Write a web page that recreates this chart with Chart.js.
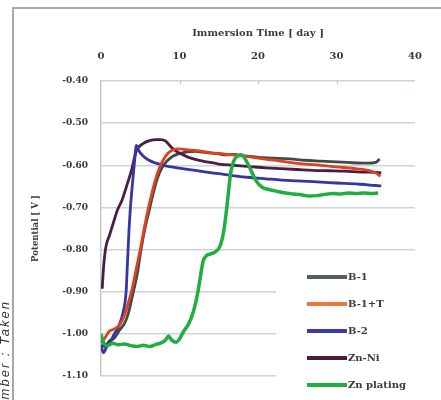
<!DOCTYPE html>
<html lang="en">
<head>
<meta charset="UTF-8">
<title>Immersion Potential</title>
<script src="https://cdn.jsdelivr.net/npm/chart.js@4.4.3/dist/chart.umd.min.js"></script>
<style>
  html, body { margin: 0; padding: 0; background: #fff; }
  #wrap { position: relative; width: 441px; height: 400px; }
</style>
</head>
<body>
<div id="wrap"><canvas id="chart"></canvas></div>
<script>
// [day, potential V]
const b1 = [[0,-1.027],[0.5,-1.03],[1,-1.018],[1.7,-1.01],[2.4,-0.99],[3,-0.975],[3.5,-0.95],[4,-0.91],[4.6,-0.86],[5.1,-0.80],[5.6,-0.75],[6.1,-0.71],[6.6,-0.67],[7.2,-0.63],[7.8,-0.605],[8.4,-0.59],[9.2,-0.578],[10,-0.572],[11,-0.568],[12,-0.567],[13,-0.569],[14,-0.571],[15,-0.573],[16,-0.575],[17,-0.574],[18,-0.577],[19,-0.579],[20,-0.581],[22,-0.583],[24,-0.585],[26,-0.588],[28,-0.59],[30,-0.592],[32,-0.594],[34,-0.595],[35,-0.593],[35.5,-0.585]];
const b1t = [[0,-1.022],[0.5,-1.01],[1,-0.995],[1.5,-0.99],[2,-0.985],[2.5,-0.975],[3,-0.955],[3.5,-0.925],[4,-0.89],[4.5,-0.845],[5,-0.8],[5.5,-0.75],[6,-0.705],[6.5,-0.665],[7,-0.63],[7.5,-0.603],[8,-0.585],[8.5,-0.572],[9,-0.565],[9.7,-0.561],[10.5,-0.562],[11.5,-0.564],[12.5,-0.566],[14,-0.57],[15.5,-0.573],[17,-0.576],[18.5,-0.579],[20,-0.583],[22,-0.588],[24,-0.593],[26,-0.597],[28,-0.6],[30,-0.604],[32,-0.607],[34,-0.612],[35,-0.618],[35.6,-0.626]];
const b2 = [[0,-1.027],[0.3,-1.045],[0.7,-1.032],[1.2,-1.018],[1.7,-1.0],[2.3,-0.98],[2.8,-0.95],[3.2,-0.9],[3.35,-0.84],[3.55,-0.76],[3.75,-0.7],[4.0,-0.645],[4.25,-0.595],[4.5,-0.553],[4.8,-0.565],[5.3,-0.577],[6,-0.587],[7,-0.595],[8,-0.6],[9,-0.604],[10,-0.607],[11.5,-0.611],[13,-0.615],[15,-0.62],[17,-0.625],[19,-0.629],[21,-0.632],[23,-0.635],[25,-0.637],[27,-0.639],[29,-0.641],[31,-0.643],[33,-0.645],[35,-0.648],[35.7,-0.649]];
const znNi = [[0.15,-0.893],[0.35,-0.837],[0.6,-0.796],[1.1,-0.765],[1.6,-0.735],[2.1,-0.706],[2.7,-0.682],[3.3,-0.647],[3.9,-0.611],[4.5,-0.566],[5.4,-0.548],[6.3,-0.541],[7.0,-0.539],[7.6,-0.539],[8.2,-0.542],[8.7,-0.552],[9.3,-0.563],[10,-0.571],[11,-0.58],[12,-0.586],[13.5,-0.592],[15,-0.597],[17,-0.6],[19,-0.603],[21,-0.606],[23,-0.608],[25,-0.61],[27,-0.612],[29,-0.613],[31,-0.614],[33,-0.616],[35,-0.617],[35.7,-0.618]];
const znPlating = [[0,-1.0],[0.3,-1.02],[0.8,-1.028],[1.5,-1.022],[2.2,-1.026],[3,-1.024],[3.8,-1.028],[4.6,-1.03],[5.4,-1.027],[6.2,-1.03],[7,-1.025],[7.6,-1.022],[8.2,-1.015],[8.6,-1.005],[9.0,-1.015],[9.6,-1.02],[10.0,-1.012],[10.5,-0.995],[11.2,-0.975],[11.8,-0.945],[12.3,-0.905],[12.7,-0.86],[13,-0.828],[13.4,-0.815],[14,-0.81],[14.6,-0.805],[15.2,-0.79],[15.6,-0.76],[15.9,-0.72],[16.2,-0.67],[16.5,-0.62],[16.9,-0.59],[17.4,-0.578],[17.9,-0.575],[18.3,-0.583],[18.8,-0.6],[19.3,-0.62],[19.8,-0.638],[20.5,-0.652],[21.5,-0.658],[22.5,-0.662],[23.5,-0.666],[24.5,-0.668],[25.5,-0.67],[26.5,-0.673],[27.5,-0.672],[28.5,-0.669],[29.5,-0.667],[30.5,-0.668],[31.5,-0.666],[32.5,-0.667],[33.5,-0.666],[34.5,-0.667],[35.3,-0.666]];

const seriesNames = ['B-1', 'B-1+T', 'B-2', 'Zn-Ni', 'Zn plating'];
const seriesData = [b1, b1t, b2, znNi, znPlating];
const lineColors = ['#3f4a4a', '#e0401c', '#3535a5', '#4a1e42', '#1fae3f'];
const legendColors = ['#556060', '#e8783c', '#3c3ca8', '#4a1e42', '#1fae3f'];
const drawOrder = [4, 1, 2, 3, 0];

const xTicks = [0, 10, 20, 30, 40];
const yTicks = [-1.1, -1.0, -0.9, -0.8, -0.7, -0.6, -0.5, -0.4];

const serif = "'DejaVu Serif', 'Liberation Serif', serif";
const textColor = '#3a3a3a';

// grey frame and the caption running up the left edge
const framePlugin = {
    id: 'frame',
    beforeDraw(chart) {
        const ctx = chart.ctx;
        ctx.save();
        ctx.fillStyle = '#fff';
        ctx.fillRect(0, 0, chart.width, chart.height);
        ctx.strokeStyle = '#a8a8a8';
        ctx.lineWidth = 2;
        ctx.beginPath();
        ctx.moveTo(13, chart.height);
        ctx.lineTo(13, 8);
        ctx.lineTo(chart.width, 8);
        ctx.stroke();

        ctx.translate(5, 300);
        ctx.rotate(-Math.PI / 2);
        ctx.font = "italic 13px 'Liberation Sans', Arial, sans-serif";
        ctx.letterSpacing = '2px';
        ctx.fillStyle = '#333';
        ctx.textAlign = 'right';
        ctx.textBaseline = 'middle';
        ctx.fillText('Number : Taken', 0, 0);
        ctx.restore();
    },
    afterDatasetsDraw(chart) {
        // small marks under the top axis line
        const ctx = chart.ctx;
        const xs = chart.scales.x;
        const top = chart.chartArea.top;
        ctx.save();
        ctx.strokeStyle = '#b8c4cc';
        ctx.lineWidth = 1;
        xTicks.slice(1, -1).forEach(v => {
            const px = Math.round(xs.getPixelForValue(v)) + 0.5;
            ctx.beginPath();
            ctx.moveTo(px, top);
            ctx.lineTo(px, top + 3);
            ctx.stroke();
        });
        ctx.restore();
    }
};

// legend box sitting in the lower right of the plot
const boxLegendPlugin = {
    id: 'boxLegend',
    afterDraw(chart) {
        const ctx = chart.ctx;
        ctx.save();
        ctx.fillStyle = '#fff';
        ctx.fillRect(276, 262, chart.width - 276, chart.height - 262);
        ctx.font = 'bold 10px ' + serif;
        ctx.textBaseline = 'middle';
        ctx.textAlign = 'left';
        seriesNames.forEach((name, i) => {
            const y = 277 + i * 27;
            ctx.strokeStyle = legendColors[i];
            ctx.lineWidth = 4;
            ctx.beginPath();
            ctx.moveTo(307, y);
            ctx.lineTo(347, y);
            ctx.stroke();
            ctx.fillStyle = textColor;
            ctx.fillText(name, 348, y);
        });
        ctx.restore();
    }
};

const datasets = seriesNames.map((name, i) => ({
    label: name,
    data: seriesData[i].map(p => ({ x: p[0], y: p[1] })),
    borderColor: lineColors[i],
    backgroundColor: lineColors[i],
    borderWidth: name === 'Zn plating' ? 3.5 : 2.8,
    pointRadius: 0,
    cubicInterpolationMode: 'monotone',
    fill: false,
    order: drawOrder[i]
}));

new Chart(document.getElementById('chart'), {
    type: 'line',
    data: { datasets },
    plugins: [framePlugin, boxLegendPlugin],
    options: {
        responsive: true,
        maintainAspectRatio: false,
        animation: false,
        layout: { padding: { left: 0, top: 0, right: 13, bottom: 24 } },
        plugins: {
            legend: { display: false },
            tooltip: { enabled: false }
        },
        scales: {
            x: {
                type: 'linear',
                position: 'top',
                min: 0,
                max: 40,
                afterBuildTicks(scale) { scale.ticks = xTicks.map(v => ({ value: v })); },
                afterFit(scale) { scale.height = 81; },
                grid: { display: false, drawTicks: false },
                border: { display: false },
                ticks: {
                    padding: 19,
                    color: textColor,
                    font: { family: serif, size: 10, weight: 'bold' }
                },
                title: {
                    display: true,
                    text: 'Immersion Time [ day ]',
                    color: textColor,
                    font: { family: serif, size: 10, weight: 'bold' },
                    padding: { top: 27, bottom: 0 }
                }
            },
            y: {
                type: 'linear',
                min: -1.1,
                max: -0.4,
                afterBuildTicks(scale) { scale.ticks = yTicks.map(v => ({ value: v })); },
                afterFit(scale) { scale.width = 101; },
                grid: { color: '#ccd4d8', lineWidth: 1.5, drawTicks: false },
                border: { display: true, color: '#c4cacc', width: 1.5 },
                ticks: {
                    padding: 13,
                    color: textColor,
                    font: { family: serif, size: 9, weight: 'bold' },
                    callback: v => v.toFixed(2)
                },
                title: {
                    display: true,
                    text: 'Potential [ V ]',
                    color: textColor,
                    font: { family: serif, size: 8.5, weight: 'bold' },
                    padding: { top: 31, bottom: 0 }
                }
            }
        }
    }
});
</script>
</body>
</html>
